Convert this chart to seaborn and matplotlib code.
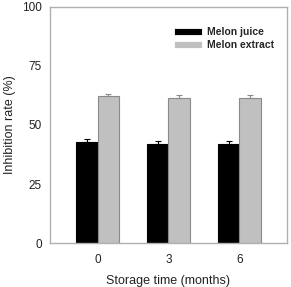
import matplotlib
matplotlib.use("Agg")
import matplotlib.pyplot as plt
import seaborn as sns
import pandas as pd

sns.set_style('white')
plt.rcParams['font.family'] = ['Liberation Sans', 'DejaVu Sans']

# data
months = ['0', '3', '6']
juice = [43.0, 42.0, 41.8]
juice_err = [1.2, 1.2, 1.5]
extract = [62.3, 61.5, 61.3]
extract_err = [1.0, 1.1, 1.3]

df = pd.DataFrame({
    'month': months * 2,
    'rate': juice + extract,
    'sample': ['Melon juice'] * 3 + ['Melon extract'] * 3,
})
errs = {'Melon juice': juice_err, 'Melon extract': extract_err}
colors = {'Melon juice': '#000000', 'Melon extract': '#c0c0c0'}
edges = {'Melon juice': '#000000', 'Melon extract': '#8a8a8a'}

fig = plt.figure(figsize=(2.91, 2.87), dpi=100)
ax = fig.add_axes([0.172, 0.153, 0.814, 0.823])

sns.barplot(data=df, x='month', y='rate', hue='sample', palette=colors,
            width=0.6, errorbar=None, ax=ax)

# edge colours + one-sided error bars from the drawn bars
for cont, name in zip(ax.containers, ['Melon juice', 'Melon extract']):
    for bar, e in zip(cont, errs[name]):
        bar.set_edgecolor(edges[name])
        bar.set_linewidth(0.8)
        xc = bar.get_x() + bar.get_width() / 2
        ax.errorbar(xc, bar.get_height(), yerr=[[0], [e]], fmt='none',
                    ecolor=edges[name], elinewidth=0.8, capsize=2.5, capthick=0.8)

ax.set_xlim(-0.67, 2.67)
ax.set_ylim(0, 100)
ax.set_yticks([0, 25, 50, 75, 100])
ax.set_xlabel('Storage time (months)', fontsize=9, color='#222222', labelpad=6)
ax.set_ylabel('Inhibition rate (%)', fontsize=9, color='#222222', labelpad=4)
ax.tick_params(axis='both', labelsize=8.5, colors='#999999', labelcolor='#222222',
               direction='out', length=3, width=0.8, pad=3)
ax.tick_params(axis='x', pad=5)
for s in ax.spines.values():
    s.set_color('#b0b0b0')
    s.set_linewidth(1.0)

leg = ax.legend(loc='upper right', bbox_to_anchor=(0.985, 0.955), frameon=False,
                prop={'weight': 'bold', 'size': 7.5}, handlelength=2.7,
                handleheight=0.7, handletextpad=0.5, labelspacing=0.3)
for h in leg.legend_handles:
    h.set_linewidth(0.6)

fig.savefig('out.png', dpi=100)
